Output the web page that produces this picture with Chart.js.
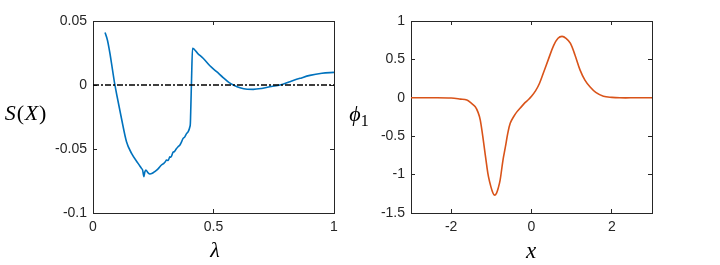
<!DOCTYPE html>
<html>
<head>
<meta charset="utf-8">
<script src="https://cdn.jsdelivr.net/npm/chart.js@4"></script>
<style>
body{margin:0;background:#fff;}
#wrap{position:relative;width:720px;height:265px;overflow:hidden;}
canvas{position:absolute;top:0;}
.lbl{position:absolute;font-family:"Liberation Serif","DejaVu Serif",serif;color:#000;transform:translate(-50%,-50%);white-space:nowrap;line-height:1;}
.it{font-style:italic;}
</style>
</head>
<body>
<div id="wrap">
  <canvas id="izq" width="360" height="265" style="left:0"></canvas>
  <canvas id="der" width="360" height="265" style="left:360px"></canvas>
  <div class="lbl" style="left:26px;top:113px;font-size:22px;letter-spacing:0.8px"><span class="it">S</span>(<span class="it">X</span>)</div>
  <div class="lbl it" style="left:215px;top:250px;font-size:22px">λ</div>
  <div class="lbl" style="left:359px;top:114px;font-size:22px"><span class="it">ϕ</span><span style="font-size:16px;position:relative;top:5px">1</span></div>
  <div class="lbl it" style="left:531px;top:250px;font-size:23px">x</div>
</div>
<script>
// panel izquierdo: S(X) vs lambda
const lambdas=[0.05,0.06,0.07,0.08,0.09,0.10,0.118,0.139,0.160,0.187,0.201,0.206,0.211,0.215,0.219,0.228,0.236,0.246,0.256,0.270,0.284,0.294,0.300,0.305,0.312,0.319,0.323,0.332,0.338,0.345,0.353,0.360,0.366,0.374,0.381,0.388,0.395,0.402,0.404,0.406,0.409,0.413,0.435,0.457,0.485,0.513,0.540,0.565,0.582,0.610,0.640,0.665,0.700,0.740,0.776,0.820,0.859,0.900,0.950,1.0];
const valoresS=[0.041,0.035,0.025,0.013,0.001,-0.009,-0.026,-0.0443,-0.0534,-0.0612,-0.0651,-0.0665,-0.0716,-0.0680,-0.0664,-0.0685,-0.0695,-0.0690,-0.0677,-0.0655,-0.0625,-0.0612,-0.0600,-0.0586,-0.0590,-0.0560,-0.0565,-0.0526,-0.0520,-0.0500,-0.0482,-0.0470,-0.0450,-0.0417,-0.0405,-0.0380,-0.0365,-0.0326,-0.0300,-0.0170,0.005,0.0287,0.0245,0.0209,0.0150,0.0104,0.0058,0.0018,0.0,-0.0022,-0.0033,-0.0034,-0.0027,-0.0012,0.0,0.0028,0.0052,0.0075,0.0092,0.0099];
const ticksXIzq=[0,0.5,1];
const ticksYIzq=[-0.1,-0.05,0,0.05];

// panel derecho: phi_1 vs x
const xs=[-3,-2.5,-2.0,-1.77,-1.61,-1.52,-1.40,-1.33,-1.275,-1.19,-1.11,-1.07,-1.01,-0.96,-0.92,-0.87,-0.82,-0.78,-0.71,-0.65,-0.59,-0.53,-0.45,-0.36,-0.25,-0.155,-0.08,0,0.1,0.2,0.30,0.42,0.55,0.66,0.76,0.86,0.97,1.08,1.21,1.33,1.46,1.60,1.79,2.0,2.2,2.6,3];
const phi1=[0,0,-0.003,-0.017,-0.03,-0.06,-0.117,-0.19,-0.29,-0.59,-0.90,-1.03,-1.16,-1.24,-1.267,-1.24,-1.16,-1.07,-0.81,-0.64,-0.46,-0.33,-0.25,-0.18,-0.115,-0.06,-0.025,0.02,0.09,0.19,0.33,0.50,0.68,0.775,0.80,0.775,0.71,0.56,0.36,0.23,0.14,0.07,0.02,0.005,0,0,0];
const ticksXDer=[-2,0,2];
const ticksYDer=[-1.5,-1,-0.5,0,0.5,1];

const colorEjes='#262626';
const fuenteTicks={family:'"Liberation Sans", Arial, sans-serif',size:14};

const formato=(v)=>{
    let r=Math.round(v*1000)/1000;
    return String(r);
}

// un eje con borde y ticks hacia adentro (estilo matlab)
const eje=(pos,min,max,ticks,mostrar,tam)=>{
    let horizontal=(pos=='bottom'||pos=='top');
    return {
        type:'linear',position:pos,min:min,max:max,
        afterBuildTicks:(s)=>{s.ticks=ticks.map(v=>({value:v}));},
        afterFit:(s)=>{ if(horizontal) s.height=tam; else s.width=tam; },
        border:{display:true,color:colorEjes,width:1},
        grid:{display:true,drawOnChartArea:false,drawTicks:true,tickLength:-4,color:colorEjes,lineWidth:1},
        ticks:{display:mostrar,color:colorEjes,font:fuenteTicks,padding:10,maxRotation:0,callback:formato}
    }
}

const opcionesBase=(escalas,derecha)=>{
    return {
        responsive:false,
        animation:false,
        layout:{padding:{left:0,top:21,right:derecha,bottom:0}},
        plugins:{legend:{display:false},tooltip:{enabled:false}},
        elements:{point:{radius:0}},
        scales:escalas
    }
}

const graficoIzq=new Chart(document.getElementById('izq'),{
    type:'scatter',
    data:{
        datasets:[{
            data:lambdas.map((l,i)=>({x:l,y:valoresS[i]})),
            showLine:true,
            borderColor:'#0072BD',
            borderWidth:1.6,
            cubicInterpolationMode:'monotone',
            order:1
        },{
            data:[{x:0,y:0},{x:1,y:0}],
            showLine:true,
            borderColor:'#000',
            borderWidth:1.4,
            borderDash:[6,2,2,2],
            order:0
        }]
    },
    options:opcionesBase({
        x:eje('bottom',0,1,ticksXIzq,true,52),
        x2:eje('top',0,1,ticksXIzq,false,0),
        y:eje('left',-0.1,0.05,ticksYIzq,true,93),
        y2:eje('right',-0.1,0.05,ticksYIzq,false,0)
    },26)
});

const graficoDer=new Chart(document.getElementById('der'),{
    type:'scatter',
    data:{
        datasets:[{
            data:xs.map((x,i)=>({x:x,y:phi1[i]})),
            showLine:true,
            borderColor:'#D95319',
            borderWidth:1.6,
            tension:0.35
        }]
    },
    options:opcionesBase({
        x:eje('bottom',-3,3,ticksXDer,true,52),
        x2:eje('top',-3,3,ticksXDer,false,0),
        y:eje('left',-1.5,1,ticksYDer,true,51),
        y2:eje('right',-1.5,1,ticksYDer,false,0)
    },68)
});
</script>
</body>
</html>
